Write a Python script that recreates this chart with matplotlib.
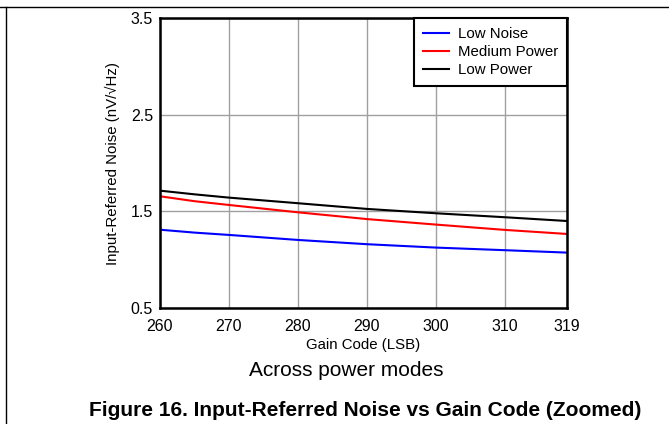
import matplotlib
matplotlib.use('Agg')
import matplotlib.pyplot as plt
from matplotlib.lines import Line2D

plt.rcParams['font.family'] = ['Liberation Sans', 'DejaVu Sans']

# gain code samples and noise readings (nV/rtHz)
gain_code = [260, 265, 270, 280, 290, 300, 310, 319]
low_noise = [1.31, 1.28, 1.256, 1.204, 1.16, 1.125, 1.098, 1.073]
medium_power = [1.656, 1.605, 1.566, 1.49, 1.42, 1.363, 1.308, 1.266]
low_power = [1.714, 1.676, 1.642, 1.584, 1.525, 1.48, 1.439, 1.40]

x_ticks = [260, 270, 280, 290, 300, 310, 319]
y_ticks = [0.5, 1.5, 2.5, 3.5]

fig = plt.figure(figsize=(6.69, 4.24), dpi=100)
ax = fig.add_axes([0.239, 0.2736, 0.6085, 0.6839])

ax.plot(gain_code, low_noise, color='#0000ff', lw=1.5, label='Low Noise')
ax.plot(gain_code, medium_power, color='#ff0000', lw=1.5, label='Medium Power')
ax.plot(gain_code, low_power, color='black', lw=1.5, label='Low Power')

ax.set_xlim(260, 319)
ax.set_ylim(0.5, 3.5)
ax.set_xticks(x_ticks)
ax.set_yticks(y_ticks)
ax.tick_params(length=0, labelsize=11.5, pad=5)
ax.tick_params(axis='x', pad=8)
ax.grid(True, color='#a0a0a0', lw=1)
for s in ax.spines.values():
    s.set_linewidth(1.8)

ax.set_xlabel('Gain Code (LSB)', fontsize=10.8, labelpad=3)
ax.set_ylabel('Input-Referred Noise (nV/\u221aHz)', fontsize=10.8, labelpad=8)

leg = ax.legend(loc='upper right', fontsize=10.8, fancybox=False, framealpha=1,
                edgecolor='black', borderaxespad=0, handlelength=1.7,
                labelspacing=0.28, borderpad=0.6, handletextpad=0.6)
leg.get_frame().set_linewidth(1.5)

fig.text(0.518, 0.127, 'Across power modes', ha='center', va='center', fontsize=15)
fig.text(0.546, 0.033, 'Figure 16. Input-Referred Noise vs Gain Code (Zoomed)',
         ha='center', va='center', fontsize=15, fontweight='bold')

# page border lines
fig.add_artist(Line2D([0, 1], [0.983, 0.983], color='black', lw=1))
fig.add_artist(Line2D([0.009, 0.009], [0, 0.983], color='black', lw=1))

fig.savefig('out.png', dpi=100)
